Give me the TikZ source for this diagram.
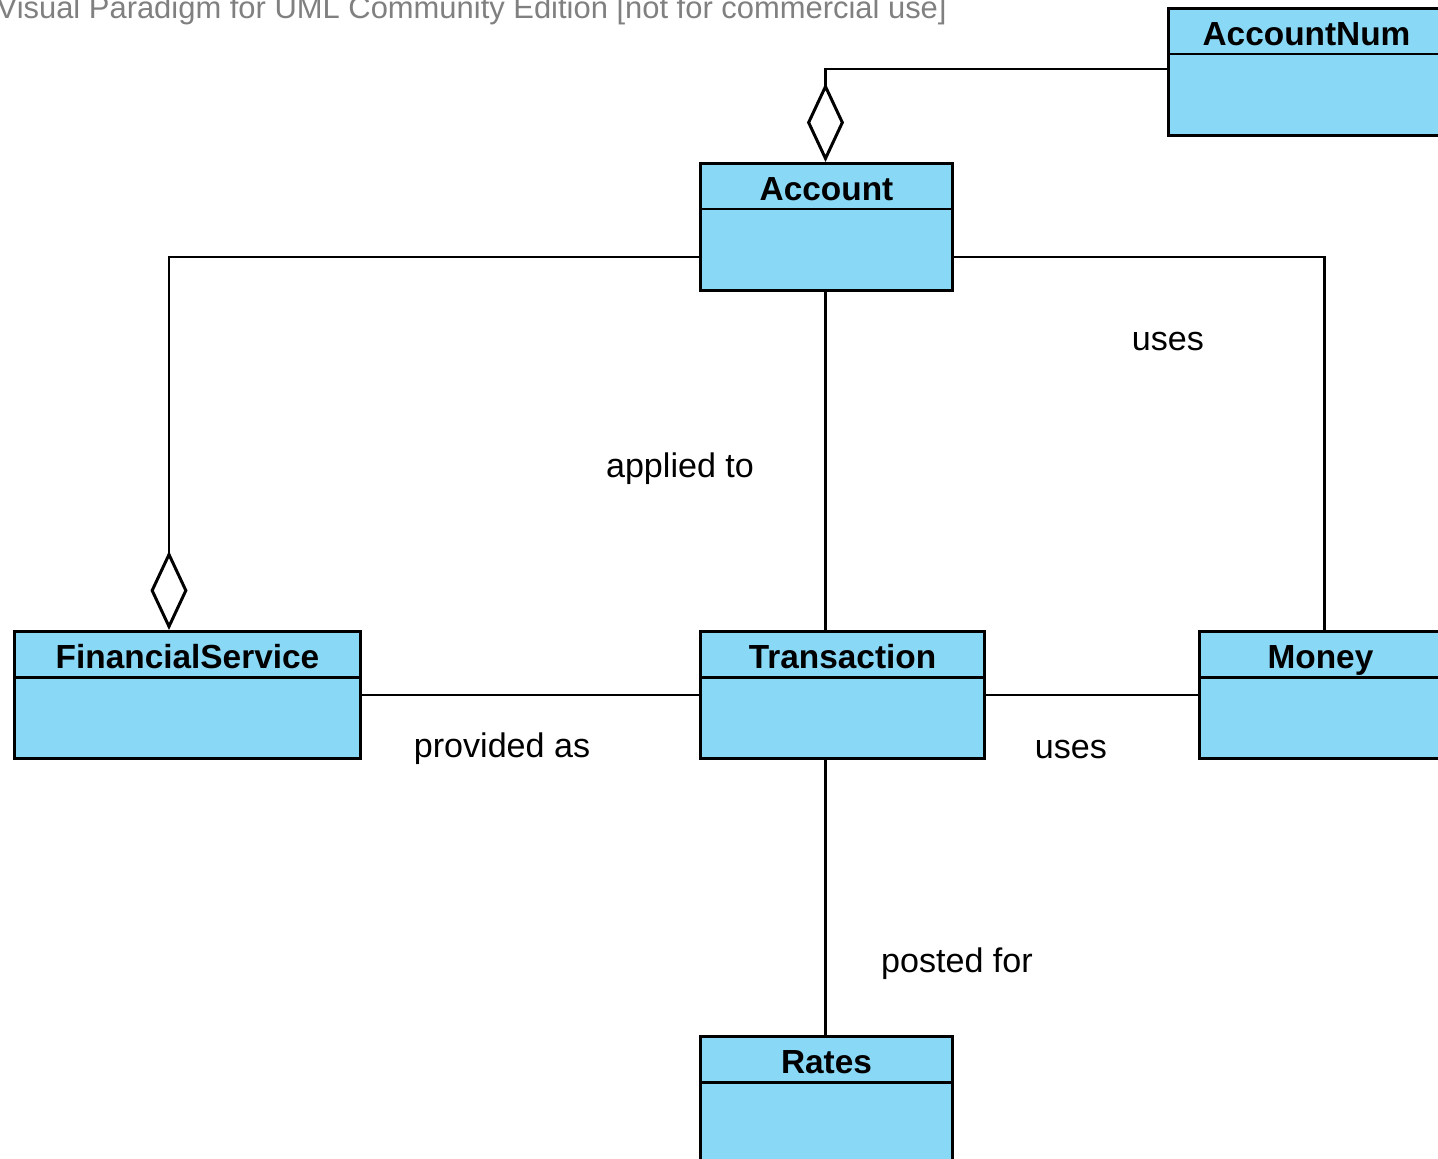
\documentclass[tikz,border=0pt]{standalone}
\usepackage{fontspec}
\setmainfont{Liberation Sans}
\usetikzlibrary{arrows.meta, positioning, calc}
\definecolor{clsblue}{RGB}{137,216,246}
\definecolor{wmgray}{RGB}{128,128,128}
\tikzset{
  cls/.style={rectangle, draw, fill=clsblue, line width=0.85pt, minimum height=12.7mm, inner sep=0pt, anchor=north west},
  ctit/.style={font=\fontsize{9.5}{11}\bfseries\selectfont, inner sep=0pt, anchor=base},
  con/.style={line width=0.85pt},
  agg/.style={con, -{Diamond[open, length=7.9mm, width=3.7mm]}},
  alab/.style={font=\fontsize{9.7}{12}\selectfont, inner sep=0pt},
  wmark/.style={font=\fontsize{8.8}{10}\selectfont, text=wmgray, inner sep=0pt, anchor=base west}
}
\newcommand{\umlcls}[5]{%
  \node[cls, minimum width=#4] (#1) at (#2,#3) {};
  \draw[con] ($(#1.north west)+(0,47)$) -- ($(#1.north east)+(0,47)$);
  \node[ctit] (#1t) at ($(#1.north)+(0,38)$) {#5};
}

\begin{document}
\begin{tikzpicture}[x=0.1mm, y=-0.1mm]
	\useasboundingbox (0,0) rectangle (1438,1159);
	\clip (0,0) rectangle (1438,1159);
	\node[wmark] (wm) at (-4,18) {Visual Paradigm for UML Community Edition [not for commercial use]};
	% classes
	\umlcls{anum}{1167}{7}{27.6mm}{AccountNum}
	\umlcls{acc}{699}{162}{25.2mm}{Account}
	\umlcls{fin}{13}{630}{34.6mm}{FinancialService}
	\umlcls{trn}{699}{630}{28.4mm}{Transaction}
	\umlcls{mon}{1198}{630}{24.2mm}{Money}
	\umlcls{rat}{699}{1035}{25.2mm}{Rates}
	% associations
	\draw[agg] ($(anum.west)+(0,-3)$) -| ($(acc.north)+(-1,0)$);
	\draw[agg] ($(acc.west)+(0,30)$) -| ($(fin.north west)+(156,0)$);
	\draw[con] ($(acc.east)+(-3,30)$) -| ($(mon.north)+(4,0)$);
	\draw[con] ($(acc.south)+(-1,0)$) -- ($(acc.south |- trn.north)+(-1,0)$);
	\draw[con] (fin.east |- trn.west) -- (trn.west);
	\draw[con] (trn.east) -- (mon.west);
	\draw[con] ($(rat.north |- trn.south)+(-1,0)$) -- ($(rat.north)+(-1,0)$);
	% labels
	\node[alab] (lapp) at (680,469) {applied to};
	\node[alab] (luse1) at (1168,341) {uses};
	\node[alab] (lprov) at (502,749) {provided as};
	\node[alab] (luse2) at (1071,749) {uses};
	\node[alab] (lpost) at (957,964) {posted for};
\end{tikzpicture}
\end{document}
